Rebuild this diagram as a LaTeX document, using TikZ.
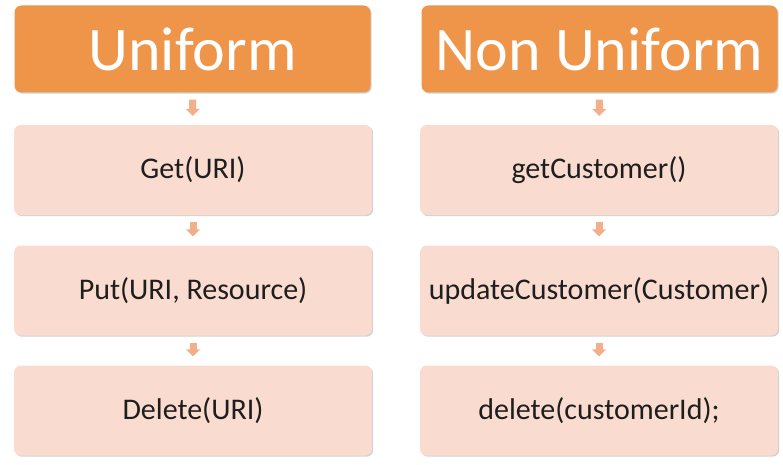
\documentclass[tikz,border=0pt]{standalone}
\usepackage{fontspec}
\setmainfont{Carlito}
\usetikzlibrary{arrows.meta,shadows}
\definecolor{hdr}{HTML}{EF9549}
\definecolor{boxfill}{HTML}{F9DCCF}
\definecolor{arr}{HTML}{F3AE8A}
\definecolor{txt}{HTML}{1E1E1E}
\tikzset{
  hdrbox/.style={rectangle, rounded corners=7pt, fill=hdr, minimum width=356pt, minimum height=87pt, inner sep=0pt, text=white, font=\fontsize{62}{62}\selectfont, drop shadow={shadow xshift=1.2pt, shadow yshift=-1.2pt, opacity=0.35, fill=gray}},
  itembox/.style={rectangle, rounded corners=7pt, fill=boxfill, minimum width=358pt, minimum height=90pt, inner sep=0pt, text=txt, font=\fontsize{30}{30}\selectfont, drop shadow={shadow xshift=1.2pt, shadow yshift=-1.2pt, opacity=0.35, fill=gray}},
  conn/.style={draw=arr, line width=7pt, shorten <=7pt, shorten >=9pt, -{Triangle[width=14pt,length=7pt]}}
}
\begin{document}
\begin{tikzpicture}[x=1pt,y=1pt]
\useasboundingbox[fill=white] (0,0) rectangle (783,464);
% left column
\node[hdrbox] (h1) at (192.5,415) {Uniform};
\node[itembox] (a1) at (193,294) {Get(URI)};
\node[itembox] (a2) at (193,173.5) {Put(URI, Resource)};
\node[itembox] (a3) at (193,53.5) {Delete(URI)};
% right column
\node[hdrbox] (h2) at (599.5,415) {Non Uniform};
\node[itembox] (b1) at (599,294) {getCustomer()};
\node[itembox] (b2) at (599,173.5) {updateCustomer(Customer)};
\node[itembox] (b3) at (599,53.5) {delete(customerId);};
% connectors
\draw[conn] (h1) -- (a1);
\draw[conn] (a1) -- (a2);
\draw[conn] (a2) -- (a3);
\draw[conn] (h2) -- (b1);
\draw[conn] (b1) -- (b2);
\draw[conn] (b2) -- (b3);
\end{tikzpicture}
\end{document}
